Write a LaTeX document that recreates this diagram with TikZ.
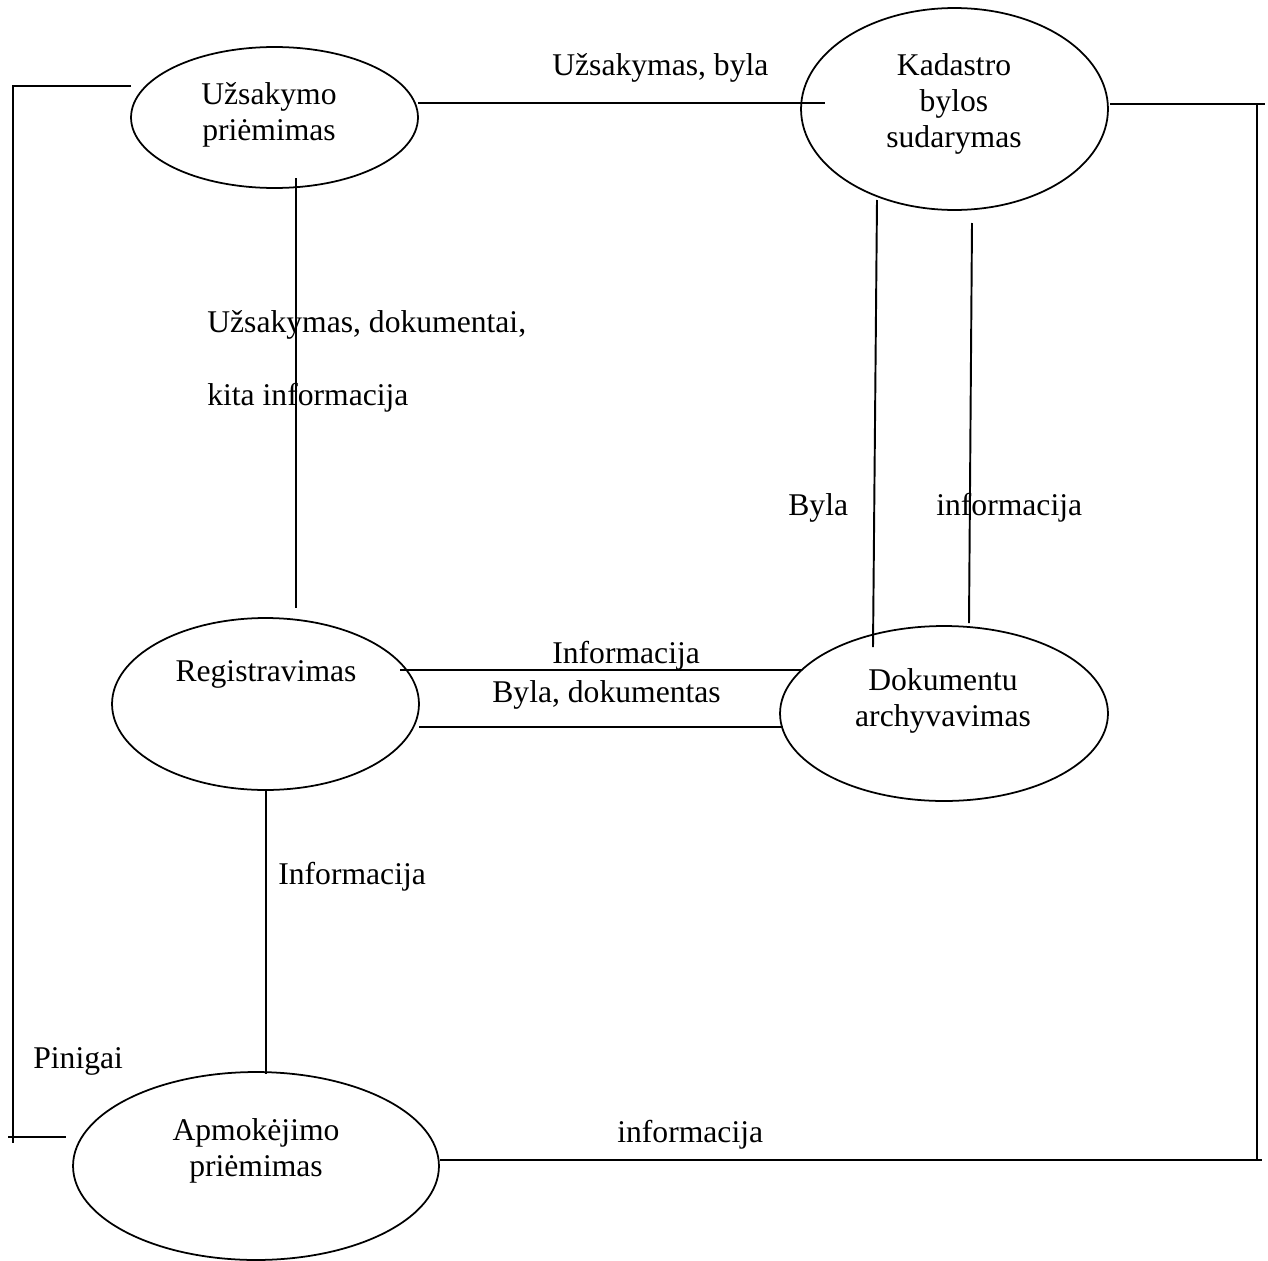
\documentclass[tikz,border=0pt]{standalone}
\usepackage{fontspec}
\setmainfont{Liberation Serif}
\usetikzlibrary{shapes.geometric}
\begin{document}
\begin{tikzpicture}[x=0.02cm,y=-0.02cm,
  proc/.style={draw, ellipse, line width=1pt, inner sep=0pt},
  flow/.style={line width=1.1pt},
  ptext/.style={font=\fontsize{18}{20.5}\selectfont, align=center, inner sep=0pt},
  lbl/.style={font=\fontsize{18}{20.5}\selectfont, inner sep=0pt, anchor=base west}]
\useasboundingbox (0,0) rectangle (1268,1261);

% processes
\node[proc, minimum width=5.74cm, minimum height=2.82cm] (uz)  at (274.5,117.5) {};
\node[proc, minimum width=6.14cm, minimum height=4.04cm] (kad) at (954.5,109) {};
\node[proc, minimum width=6.14cm, minimum height=3.44cm] (reg) at (265.5,704) {};
\node[proc, minimum width=6.56cm, minimum height=3.50cm] (dok) at (944,713.5) {};
\node[proc, minimum width=7.32cm, minimum height=3.76cm] (apm) at (256,1166) {};

% process names
\node[ptext] (uzT)  at (269,115) {Užsakymo\\priėmimas};
\node[ptext] (kadT) at (954,104) {Kadastro\\bylos\\sudarymas};
\node[ptext, anchor=base] (regT) at (266,681) {Registravimas};
\node[ptext] (dokT) at (943,701) {Dokumentu\\archyvavimas};
\node[ptext] (apmT) at (256,1151) {Apmokėjimo\\priėmimas};

% connector end points
\coordinate (uzE)   at (418,103);
\coordinate (kadW)  at (825,103);
\coordinate (uzS)   at (296,178);
\coordinate (regN)  at (296,608);
\coordinate (kadS1) at (877,200);
\coordinate (dokN1) at (873,647);
\coordinate (kadS2) at (972,223);
\coordinate (dokN2) at (969,623);
\coordinate (regE1) at (400,670);
\coordinate (dokW1) at (802,670);
\coordinate (regE2) at (419,727);
\coordinate (dokW2) at (783,727);
\coordinate (regS)  at (266,790);
\coordinate (apmN)  at (266,1074);
\coordinate (uzW)   at (131,86);
\coordinate (lTop)  at (13,86);
\coordinate (lBot)  at (13,1143);
\coordinate (lEnd)  at (8,1137);
\coordinate (apmW)  at (66,1137);
\coordinate (kadE)  at (1110,104);
\coordinate (rTop)  at (1265,104);
\coordinate (rV1)   at (1257,104);
\coordinate (rV2)   at (1257,1160);
\coordinate (apmE)  at (440,1160);
\coordinate (rEnd)  at (1262,1160);

% flows
\draw[flow] (uzE) -- (kadW);
\draw[flow] (uzS) -- (regN);
\draw[flow] (kadS1) -- (dokN1);
\draw[flow] (kadS2) -- (dokN2);
\draw[flow] (regE1) -- (dokW1);
\draw[flow] (regE2) -- (dokW2);
\draw[flow] (regS) -- (apmN);
\draw[flow] (uzW) -- (lTop) -- (lBot);
\draw[flow] (lEnd) -- (apmW);
\draw[flow] (kadE) -- (rTop);
\draw[flow] (rV1) -- (rV2);
\draw[flow] (apmE) -- (rEnd);

% flow labels
\node[lbl] (l1)  at (552,75)   {Užsakymas, byla};
\node[lbl] (l2)  at (207,332)  {Užsakymas, dokumentai,};
\node[lbl] (l3)  at (207,405)  {kita informacija};
\node[lbl] (l4)  at (788,515)  {Byla};
\node[lbl] (l5)  at (936,515)  {informacija};
\node[lbl] (l6)  at (552,663)  {Informacija};
\node[lbl] (l7)  at (492,702)  {Byla, dokumentas};
\node[lbl] (l8)  at (278,884)  {Informacija};
\node[lbl] (l9)  at (33,1068)  {Pinigai};
\node[lbl] (l10) at (617,1142) {informacija};
\end{tikzpicture}
\end{document}
